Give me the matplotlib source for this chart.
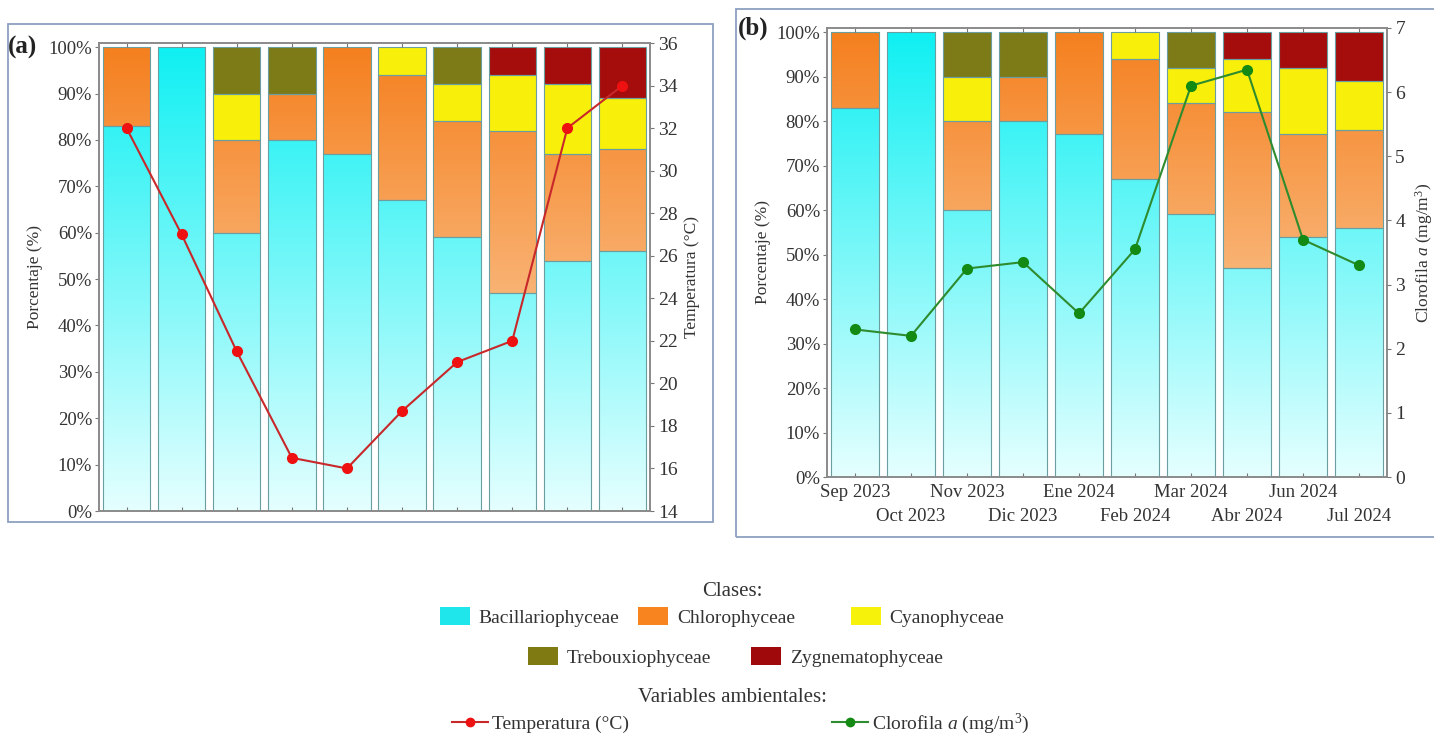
import numpy as np
import matplotlib
matplotlib.use("Agg")
import matplotlib.pyplot as plt
from matplotlib.patches import Rectangle, Patch
from matplotlib.lines import Line2D

plt.rcParams['font.family'] = ['Liberation Serif', 'DejaVu Serif']
plt.rcParams['mathtext.fontset'] = 'custom'
plt.rcParams['mathtext.rm'] = 'Liberation Serif'
plt.rcParams['mathtext.it'] = 'Liberation Serif:italic'

# ---------------- data ----------------
months = ["Sep 2023", "Oct 2023", "Nov 2023", "Dic 2023", "Ene 2024",
          "Feb 2024", "Mar 2024", "Abr 2024", "Jun 2024", "Jul 2024"]
classes = ["Bacillariophyceae", "Chlorophyceae", "Cyanophyceae",
           "Trebouxiophyceae", "Zygnematophyceae"]
bacillariophyceae = [83, 100, 60, 80, 77, 67, 59, 47, 54, 56]
chlorophyceae     = [17, 0, 20, 10, 23, 27, 25, 35, 23, 22]
cyanophyceae      = [0, 0, 10, 0, 0, 6, 8, 12, 15, 11]
trebouxiophyceae  = [0, 0, 10, 10, 0, 0, 8, 0, 0, 0]
zygnematophyceae  = [0, 0, 0, 0, 0, 0, 0, 6, 8, 11]
temperatura = [32, 27, 21.5, 16.5, 16, 18.7, 21, 22, 32, 34]
clorofila   = [2.3, 2.2, 3.25, 3.35, 2.55, 3.55, 6.1, 6.35, 3.7, 3.3]

series = [bacillariophyceae, chlorophyceae, cyanophyceae,
          trebouxiophyceae, zygnematophyceae]
legend_colors = ['#1ee6ea', '#f7841e', '#f6f20a', '#7f7b12', '#a0090c']
base_colors = ['#5af2f3', '#f6923a', '#f8f00a', '#7d7a18', '#a50c0c']
# gradient (top colour at 100 %, bottom colour at 0 %) for two classes
gradients = {0: ((0.06, 0.94, 0.95), (0.90, 1.0, 1.0)),
             1: ((0.96, 0.50, 0.12), (0.99, 0.88, 0.75))}

W, H = 1434, 738
fig = plt.figure(figsize=(W / 100, H / 100), dpi=100)
TXT = '#333333'
TFS = 13.5


def fx(px):
    return px / W


def fy(py):
    return 1 - py / H


def grad_image(top, bot):
    t = np.linspace(0, 1, 256)[:, None]
    top = np.array(top)[None, :]
    bot = np.array(bot)[None, :]
    img = bot * (1 - t) + top * t
    return img[:, None, :]


def stacked(ax):
    x = np.arange(len(months))
    width = 0.86
    bottom = np.zeros(len(months))
    for i, vals in enumerate(series):
        vals = np.array(vals, dtype=float)
        bars = ax.bar(x, vals, width, bottom=bottom, color=base_colors[i],
                      edgecolor='none', zorder=1)
        if i in gradients:
            img = grad_image(*gradients[i])
            for xi, p in zip(x, bars.patches):
                if p.get_height() <= 0:
                    continue
                im = ax.imshow(img, extent=(xi - width / 2, xi + width / 2, 0, 100),
                               origin='lower', aspect='auto', zorder=1.1,
                               interpolation='bilinear')
                im.set_clip_path(p)
        nz = vals > 0
        ax.bar(x[nz], vals[nz], width, bottom=bottom[nz], fill=False,
               edgecolor='#6a9ea0', linewidth=0.8, zorder=1.2)
        bottom += vals
    ax.set_xlim(-0.5, len(months) - 0.5)
    ax.set_ylim(0, 100.9)
    ax.set_yticks(np.arange(0, 101, 10))
    ax.set_yticklabels([f"{v}%" for v in range(0, 101, 10)])
    ax.set_xticks(x)
    ax.tick_params(axis='x', direction='in', length=3, top=True, bottom=True,
                   color='#777777')
    ax.tick_params(axis='y', direction='out', length=3, color='#777777',
                   labelsize=TFS, labelcolor=TXT, pad=2)
    for s in ax.spines.values():
        s.set_color('#8a8a8a')
        s.set_linewidth(1.2)
    ax.set_ylabel("Porcentaje (%)", fontsize=12.5, color=TXT, labelpad=4)
    return x


def style_right(ax2):
    ax2.tick_params(axis='y', direction='out', length=3, color='#777777',
                    labelsize=TFS + 0.5, labelcolor=TXT, pad=3)
    for s in ax2.spines.values():
        s.set_color('#8a8a8a')
        s.set_linewidth(1.2)


# ---------------- panel (a) ----------------
axa = fig.add_axes([fx(99), fy(511), fx(650) - fx(99), fy(43) - fy(511)])
x = stacked(axa)
axa.set_xticklabels([])
axa2 = axa.twinx()
axa2.plot(x, temperatura, color='#c8282a', lw=1.5, marker='o', ms=7,
          mfc='#ee1111', mec='#ee1111', zorder=5)
axa2.set_ylim(14, 36)
axa2.set_yticks(np.arange(14, 37, 2))
style_right(axa2)
axa2.set_ylabel("Temperatura (°C)", fontsize=12.5, color=TXT, labelpad=4)
fig.text(fx(8), fy(47), "(a)", fontsize=18, fontweight='bold', va='center',
         ha='left', color='#222222')

# ---------------- panel (b) ----------------
axb = fig.add_axes([fx(827), fy(477), fx(1387) - fx(827), fy(28) - fy(477)])
x = stacked(axb)
axb.set_xticklabels(months, fontsize=TFS, color=TXT)
for i, tk in enumerate(axb.xaxis.get_major_ticks()):
    tk.set_pad(5 if i % 2 == 0 else 22)
axb2 = axb.twinx()
axb2.plot(x, clorofila, color='#2e8b2e', lw=1.5, marker='o', ms=7,
          mfc='#138a13', mec='#138a13', zorder=5)
axb2.set_ylim(0, 7)
axb2.set_yticks(np.arange(0, 8, 1))
style_right(axb2)
axb2.set_ylabel(r"Clorofila $\mathit{a}$ (mg/m$^3$)", fontsize=12.5,
                color=TXT, labelpad=6)
fig.text(fx(738), fy(28), "(b)", fontsize=18, fontweight='bold', va='center',
         ha='left', color='#222222')

# ---------------- panel frames ----------------
for (x0, y0, x1, y1) in [(8, 24, 713, 522), (736, 9, 1440, 537)]:
    fig.patches.append(Rectangle((fx(x0), fy(y1)), fx(x1) - fx(x0), fy(y0) - fy(y1),
                                 transform=fig.transFigure, fill=False,
                                 edgecolor='#8da0c0', linewidth=1.3))

# ---------------- legends ----------------
lfs = 14
fig.text(fx(732), fy(592), "Clases:", ha='center', va='center', fontsize=15,
         color=TXT)
fig.text(fx(732), fy(697), "Variables ambientales:", ha='center', va='center',
         fontsize=15, color=TXT)

entries = [(0, 440, 617), (1, 638, 617), (2, 851, 617), (3, 528, 657), (4, 751, 657)]
for ci, px, py in entries:
    h = Patch(facecolor=legend_colors[ci], edgecolor='none')
    fig.legend([h], [classes[ci]], loc='center left',
               bbox_to_anchor=(fx(px), fy(py)), frameon=False, fontsize=lfs,
               handlelength=30 / (lfs * 100 / 72), handleheight=20 / (lfs * 100 / 72),
               handletextpad=0.45, borderpad=0, borderaxespad=0,
               labelcolor=TXT)

line_entries = [(Line2D([], [], color='#c8282a', lw=1.5, marker='o', ms=6,
                        mfc='#ee1111', mec='#ee1111'), "Temperatura (°C)", 452),
                (Line2D([], [], color='#2e8b2e', lw=1.5, marker='o', ms=6,
                        mfc='#138a13', mec='#138a13'), r"Clorofila $\mathit{a}$ (mg/m$^3$)", 832)]
for h, lab, px in line_entries:
    fig.legend([h], [lab], loc='center left', bbox_to_anchor=(fx(px), fy(724)),
               frameon=False, fontsize=lfs, handlelength=36 / (lfs * 100 / 72),
               handletextpad=0.2, borderpad=0, borderaxespad=0,
               labelcolor=TXT)

fig.savefig("out.png", dpi=100)
